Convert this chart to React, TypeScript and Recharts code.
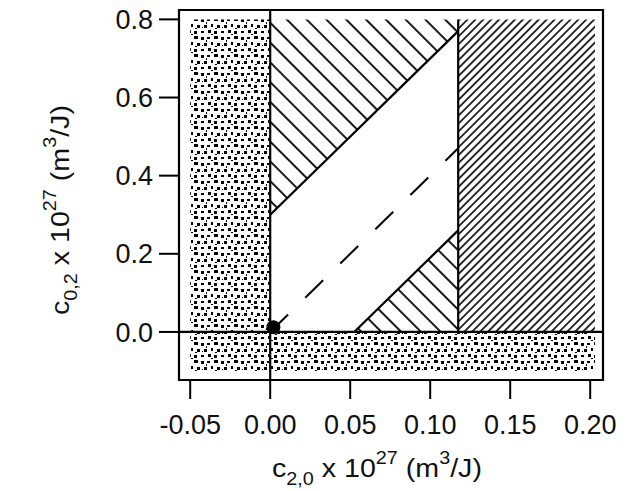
import {
  ComposedChart, XAxis, YAxis, Area, Line, ReferenceArea, ReferenceLine, ReferenceDot,
} from 'recharts';

// axis ticks
const xTicks = [-0.05, 0, 0.05, 0.1, 0.15, 0.2];
const yTicks = [0, 0.2, 0.4, 0.6, 0.8];
const xDomain = [-0.057, 0.208];
const yDomain = [-0.123, 0.824];

// region bounds (c20, c02 in 1e-27 m3/J)
const shadeX = [-0.05, 0.203];
const shadeY = [-0.1, 0.8];
const c20Limit = 0.1175;

// wedges bounded by the two diagonals
const upperWedge = [
  { x: 0, band: [0.3, 0.8] },
  { x: 0.1175, band: [0.77, 0.8] },
];
const lowerWedge = [
  { x: 0.0525, band: [0, 0] },
  { x: 0.1175, band: [0, 0.26] },
];
const upperEdge = [{ x: 0, y: 0.3 }, { x: 0.1175, y: 0.77 }];
const lowerEdge = [{ x: 0.0525, y: 0 }, { x: 0.1175, y: 0.26 }];
const dashedLine = [{ x: 0, y: 0 }, { x: 0.1175, y: 0.47 }];
const originPoint = { x: 0.002, y: 0.012 };

const INK = '#111';
const FONT = '"Liberation Sans", Arial, sans-serif';

// stipple tile, staggered blobs
const stippleDots = [
  [1, 1, 3, 3], [7, 1, 3, 2], [14, 0, 4, 3],
  [4, 7, 3, 3], [11, 6, 2, 3], [17, 7, 3, 3],
  [1, 13, 3, 2], [8, 12, 3, 3], [14, 13, 3, 3],
  [6, 4, 1, 2], [15, 10, 2, 1], [11, 16, 2, 1], [2, 9, 1, 1],
];

export default function App() {
  return (
    <div style={{ position: 'absolute', left: 0, top: 0, background: '#fff', fontFamily: FONT }}>
      <ComposedChart width={628} height={491} margin={{ top: 10, right: 25, bottom: 0, left: 0 }}>
        <defs>
          <pattern id="stipple" patternUnits="userSpaceOnUse" width={20} height={18}>
            {stippleDots.map(([x, y, w, h], i) => (
              <rect key={i} x={x} y={y} width={w} height={h} fill="#000" />
            ))}
          </pattern>
          <pattern id="wideHatch" patternUnits="userSpaceOnUse" width={14} height={14} patternTransform="rotate(-45)">
            <line x1={7} y1={0} x2={7} y2={14} stroke="#000" strokeWidth={1.8} />
          </pattern>
          <pattern id="fineHatch" patternUnits="userSpaceOnUse" width={5.6} height={5.6} patternTransform="rotate(45)">
            <line x1={2.8} y1={0} x2={2.8} y2={5.6} stroke="#000" strokeWidth={1.6} />
          </pattern>
        </defs>

        <XAxis
          dataKey="x"
          type="number"
          domain={xDomain}
          ticks={xTicks}
          allowDataOverflow
          height={111}
          tickSize={19}
          tickMargin={16}
          stroke="#000"
          strokeWidth={2}
          tick={{ fontSize: 27, fill: INK }}
          tickFormatter={(v) => v.toFixed(2)}
        />
        <YAxis
          type="number"
          domain={yDomain}
          ticks={yTicks}
          allowDataOverflow
          width={179}
          tickSize={20}
          tickMargin={6}
          stroke="#000"
          strokeWidth={2}
          tick={{ fontSize: 27, fill: INK }}
          tickFormatter={(v) => v.toFixed(1)}
        />

        <ReferenceArea x1={shadeX[0]} x2={0} y1={shadeY[0]} y2={shadeY[1]} fill="url(#stipple)" fillOpacity={1} stroke="none" />
        <ReferenceArea x1={0} x2={shadeX[1]} y1={shadeY[0]} y2={0} fill="url(#stipple)" fillOpacity={1} stroke="none" />
        <ReferenceArea x1={c20Limit} x2={shadeX[1]} y1={0} y2={shadeY[1]} fill="url(#fineHatch)" fillOpacity={1} stroke="none" />

        <Area data={upperWedge} dataKey="band" type="linear" fill="url(#wideHatch)" fillOpacity={1} stroke="none" isAnimationActive={false} />
        <Area data={lowerWedge} dataKey="band" type="linear" fill="url(#wideHatch)" fillOpacity={1} stroke="none" isAnimationActive={false} />

        <Line data={upperEdge} dataKey="y" type="linear" stroke="#000" strokeWidth={2.2} dot={false} isAnimationActive={false} />
        <Line data={lowerEdge} dataKey="y" type="linear" stroke="#000" strokeWidth={2.2} dot={false} isAnimationActive={false} />
        <Line data={dashedLine} dataKey="y" type="linear" stroke="#000" strokeWidth={2} strokeDasharray="25 24" dot={false} isAnimationActive={false} />

        <ReferenceLine x={0} stroke="#000" strokeWidth={2.2} />
        <ReferenceLine y={0} stroke="#000" strokeWidth={2.2} />
        <ReferenceLine segment={[{ x: c20Limit, y: 0 }, { x: c20Limit, y: shadeY[1] }]} stroke="#000" strokeWidth={2.2} />
        <ReferenceArea x1={xDomain[0]} x2={xDomain[1]} y1={yDomain[0]} y2={yDomain[1]} fill="none" stroke="#000" strokeWidth={2.2} />
        <ReferenceDot x={originPoint.x} y={originPoint.y} r={7} fill="#000" stroke="none" />

        <text transform="translate(272,477) scale(1.1,1)" fontSize={26} fill={INK}>
          c<tspan fontSize={18} dy={8}>2,0</tspan>
          <tspan dy={-8}> x 10</tspan>
          <tspan fontSize={18} dy={-13}>27</tspan>
          <tspan dy={13}> (m</tspan>
          <tspan fontSize={18} dy={-13}>3</tspan>
          <tspan dy={13}>/J)</tspan>
        </text>
        <text transform="translate(69,315) rotate(-90) scale(1.1,1)" fontSize={26} fill={INK}>
          c<tspan fontSize={18} dy={8}>0,2</tspan>
          <tspan dy={-8}> x 10</tspan>
          <tspan fontSize={18} dy={-13}>27</tspan>
          <tspan dy={13}> (m</tspan>
          <tspan fontSize={18} dy={-13}>3</tspan>
          <tspan dy={13}>/J)</tspan>
        </text>
      </ComposedChart>
    </div>
  );
}
